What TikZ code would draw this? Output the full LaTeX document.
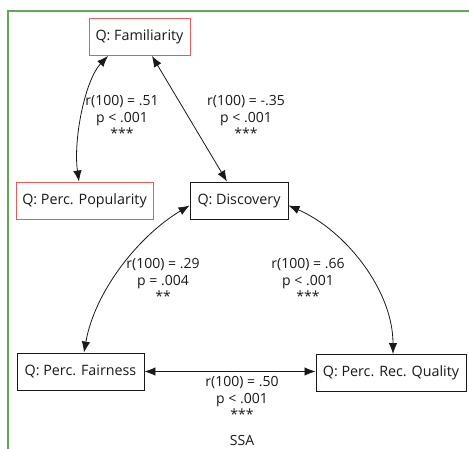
\documentclass[tikz,border=0pt]{standalone}
\usepackage{fontspec}
\setmainfont{Open Sans}
\usetikzlibrary{arrows.meta}
\definecolor{framegreen}{RGB}{98,168,90}
\definecolor{boxred}{RGB}{238,88,88}
\definecolor{ink}{RGB}{25,25,25}
\tikzset{
  qbox/.style={draw=ink, line width=0.9pt, rectangle, minimum height=37pt,
    inner xsep=2pt, font=\fontsize{14.3}{16.5}\selectfont, text=ink},
  redbox/.style={qbox, draw=boxred},
  stat/.style={align=center, font=\fontsize{14}{16.5}\selectfont, text=ink},
  corr/.style={draw=ink, line width=0.8pt,
    {Latex[length=11pt,width=8.5pt]}-{Latex[length=11pt,width=8.5pt]}}
}
\begin{document}
\begin{tikzpicture}[x=1pt,y=-1pt]
\useasboundingbox (0,0) rectangle (469,448);
\clip (0,0) rectangle (469,448);
\fill[white] (0,0) rectangle (469,448);
% enclosing frame
\draw[framegreen, line width=1.5pt] (8,480) -- (8,11) -- (490,11);

% variables
\node[redbox, minimum width=101pt] (fam) at (139.5,37) {Q: Familiarity};
\node[redbox, minimum width=137pt] (pop) at (84.5,200.5) {Q: Perc. Popularity};
\node[qbox, minimum width=98pt] (disc) at (239,200.5) {Q: Discovery};
\node[qbox, minimum width=127pt] (fair) at (80.5,371.5) {Q: Perc. Fairness};
\node[qbox, minimum width=150pt] (qual) at (391,373) {Q: Perc. Rec. Quality};

% correlations
\draw[corr] ([xshift=-31.5]fam.south) .. controls (85,80) and (73,140) .. ([xshift=-5.5]pop.north);
\draw[corr] ([xshift=12.5]fam.south) -- ([xshift=-12]disc.north);
\draw[corr] ([yshift=-5]disc.west) .. controls (140,235) and (95,290) .. ([xshift=3.5]fair.north);
\draw[corr] ([yshift=-5]disc.east) .. controls (345,230) and (393,290) .. ([xshift=2]qual.north);
\draw[corr] (fair.east) -- (qual.west |- fair.east);

% statistics
\node[stat] (s1) at (122,117) {r(100) = .51\\p < .001\\***};
\node[stat] (s2) at (246,117) {r(100) = -.35\\p < .001\\***};
\node[stat] (s3) at (163,280) {r(100) = .29\\p = .004\\**};
\node[stat] (s4) at (308,280) {r(100) = .66\\p < .001\\***};
\node[stat] (s5) at (242,398) {r(100) = .50\\p < .001\\***};
\node[stat] (ssa) at (242,440) {SSA};
\end{tikzpicture}
\end{document}
